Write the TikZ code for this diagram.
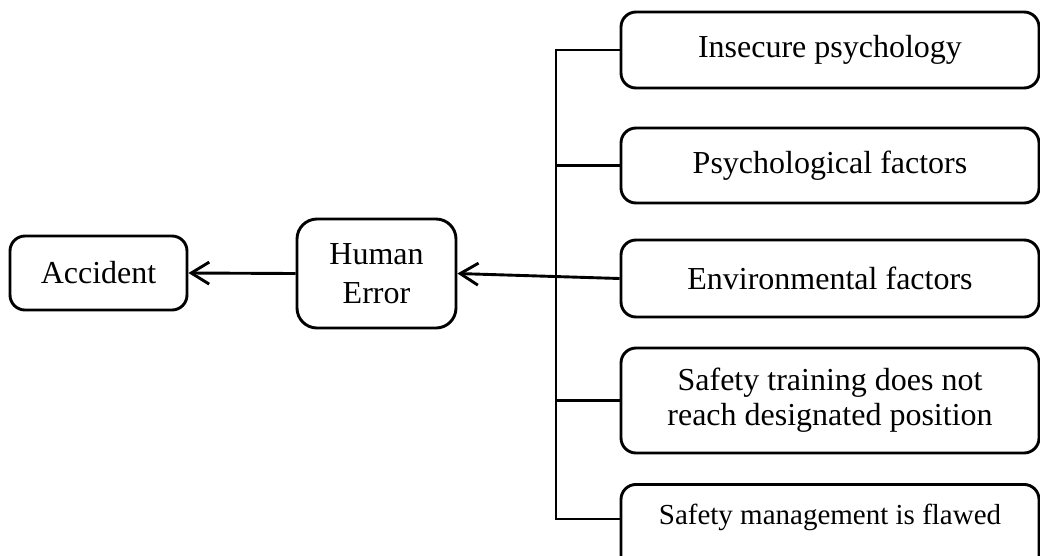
\documentclass[tikz,border=0pt]{standalone}
\usepackage{fontspec}
\setmainfont{Liberation Serif}
\usetikzlibrary{arrows.meta}
\tikzset{
  box/.style={draw, line width=2.9pt, rounded corners=15pt, align=center, inner sep=0pt,
    font=\fontsize{32}{35}\selectfont},
  wire/.style={line width=2.9pt},
  arr/.style={line width=2.9pt, -{Straight Barb[length=18pt,width=22pt,line width=2.9pt]}},
}
\begin{document}
\begin{tikzpicture}[x=1pt,y=-1pt]
\useasboundingbox (0,0) rectangle (1040,555);
\node[box, minimum width=177pt, minimum height=74pt] (acc) at (98.5,273) {Accident};
\node[box, minimum width=159pt, minimum height=109pt, rounded corners=20pt,
      font=\fontsize{32}{39}\selectfont] (he) at (376.5,273.5) {Human\\Error};
\node[box, minimum width=418pt, minimum height=76pt] (b1) at (830,50) {Insecure psychology};
\node[box, minimum width=418pt, minimum height=75pt] (b2) at (830,165.5) {Psychological factors};
\node[box, minimum width=418pt, minimum height=77pt] (b3) at (830,278.5) {Environmental factors};
\node[box, minimum width=418pt, minimum height=105pt] (b4) at (830,400.5) {Safety training does not\\reach designated position};
\node[box, anchor=north, minimum width=418pt, inner ysep=17pt, text height=23pt, text depth=40pt,
      font=\fontsize{29}{33}\selectfont] (b5) at (830,483) {Safety management is flawed};
\coordinate (vbot) at (556,519);
\draw[wire] (b1.west) -- (b1.west -| vbot) -- (vbot) -- (vbot -| b5.west);
\draw[wire] (b2.west) -- (b2.west -| vbot);
\draw[wire] (b4.west) -- (b4.west -| vbot);
\draw[arr] (b3.west) -- (he.east);
\draw[arr] (he.west) -- (acc.east);
\end{tikzpicture}
\end{document}
